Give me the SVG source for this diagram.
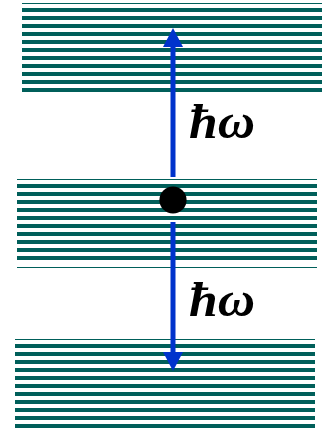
<svg xmlns="http://www.w3.org/2000/svg" width="333" height="430" viewBox="0 0 333 430">
<defs>
<style>
.arrow{stroke:#0033CC;stroke-width:5;fill:none}
.head{fill:#0033CC}
.lbl{font-family:"Liberation Serif","DejaVu Serif",serif;font-style:italic;font-weight:bold;font-size:48px;fill:#000}
</style>
<pattern id="stripes" x="0" y="0" width="10" height="8" patternUnits="userSpaceOnUse">
<rect x="0" y="0" width="10" height="4" fill="#005F5A"/>
</pattern>
</defs>
<rect width="333" height="430" fill="#fff"/>
<g id="band-top">
<rect x="22" y="3" width="300" height="92" fill="url(#stripes)"/>
</g>
<g id="band-middle">
<rect x="17" y="179" width="300" height="84" fill="url(#stripes)"/>
<rect x="17" y="267" width="300" height="1" fill="#005F5A"/>
</g>
<g id="band-bottom">
<rect x="15" y="339" width="300" height="91" fill="url(#stripes)"/>
</g>
<g id="connectors">
<line class="arrow" x1="173" y1="46" x2="173" y2="177"/>
<polygon class="head" points="173,28 163,47 183,47"/>
<line class="arrow" x1="173" y1="222" x2="173" y2="353"/>
<polygon class="head" points="173,371 163,352 183,352"/>
</g>
<g id="particle">
<circle cx="173" cy="200" r="13.6" fill="#000"/>
</g>
<g id="label-up">
<text class="lbl" x="189" y="138" textLength="66" lengthAdjust="spacingAndGlyphs">ħω</text>
</g>
<g id="label-down">
<text class="lbl" x="189" y="316" textLength="66" lengthAdjust="spacingAndGlyphs">ħω</text>
</g>
</svg>
